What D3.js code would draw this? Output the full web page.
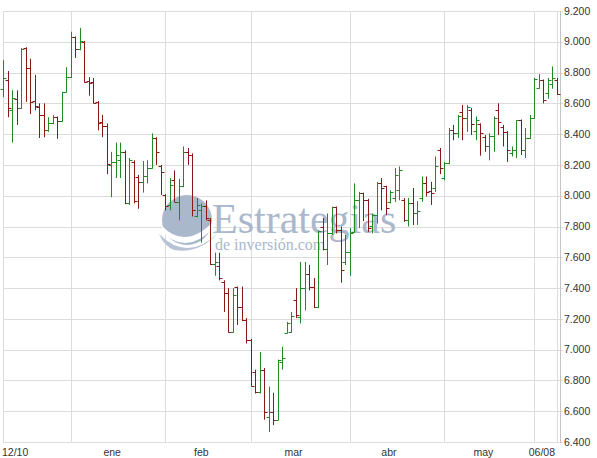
<!DOCTYPE html>
<html>
<head>
<meta charset="utf-8">
<script src="https://cdn.jsdelivr.net/npm/d3@7"></script>
<style>
  body { margin: 0; background: #fff; }
  svg { display: block; font-family: 'Liberation Sans', Arial, sans-serif; }
</style>
</head>
<body>
<svg width="597" height="458"></svg>
<script>
// daily OHLC, 10 dec -> 8 jun (one entry per session)
const opens = [
  8695, 8750, 8555, 8630, 8570, 8960, 8830, 8615, 8575, 8525,
  8425, 8470, 8510, 8485, 8675, 8770, 9030, 8955, 9000, 8745,
  8740, 8610, 8480, 8455, 8200, 8220, 8230, 8285, 7955, 8220,
  8120, 8090, 8125, 8180, 8375, 8190, 8005, 7940, 8100, 7960,
  8060, 8285, 8265, 7865, 7905, 7935, 7840, 7555, 7545, 7440,
  7365, 7115, 7405, 7280, 7190, 7065, 6855, 6725, 6870, 6565,
  6595, 6545, 6920, 7110, 7115, 7320, 7215, 7400, 7490, 7405,
  7280, 7795, 7655, 7755, 7925, 7775, 7570, 7635, 7765, 7975,
  8015, 7975, 7805, 7875, 8085, 8060, 7960, 7985, 8035, 7970,
  7840, 7955, 7885, 7985, 8080, 8030, 8050, 8295, 8115, 8210,
  8425, 8405, 8545, 8505, 8555, 8420, 8465, 8380, 8320, 8390,
  8555, 8445, 8415, 8280, 8300, 8490, 8300, 8375, 8505, 8700,
  8750, 8665, 8725, 8750
];
const highs = [
  8880, 8810, 8685, 8685, 8960, 8965, 8890, 8785, 8600, 8600,
  8510, 8525, 8515, 8675, 8835, 9065, 9035, 9090, 9005, 8770,
  8765, 8615, 8525, 8470, 8285, 8345, 8345, 8295, 8245, 8230,
  8135, 8225, 8230, 8405, 8380, 8200, 8010, 8115, 8165, 8110,
  8320, 8310, 8275, 7985, 7950, 7970, 7855, 7630, 7630, 7450,
  7400, 7400, 7410, 7410, 7205, 7070, 6870, 6985, 6880, 6760,
  6720, 6935, 7020, 7180, 7245, 7400, 7570, 7570, 7550, 7465,
  7775, 7855, 7885, 7930, 7930, 7800, 7745, 7790, 8080, 8025,
  8020, 7980, 7885, 8090, 8115, 8065, 8035, 8180, 8190, 7985,
  7985, 8050, 7965, 8125, 8125, 8090, 8255, 8310, 8220, 8440,
  8460, 8525, 8590, 8590, 8570, 8515, 8470, 8395, 8405, 8515,
  8600, 8460, 8420, 8320, 8490, 8495, 8440, 8525, 8765, 8790,
  8755, 8765, 8840, 8765
];
const lows = [
  8640, 8510, 8345, 8460, 8565, 8610, 8530, 8555, 8375, 8380,
  8415, 8465, 8370, 8480, 8670, 8765, 8895, 8945, 8735, 8650,
  8600, 8425, 8380, 8140, 7990, 8115, 8115, 7945, 7940, 7950,
  7915, 8020, 8080, 8175, 8200, 8005, 7905, 7905, 7960, 7840,
  8055, 8200, 7865, 7860, 7695, 7840, 7550, 7480, 7450, 7245,
  7110, 7110, 7160, 7185, 7040, 6760, 6715, 6715, 6545, 6465,
  6510, 6540, 6870, 7105, 7110, 7205, 7170, 7255, 7385, 7270,
  7270, 7645, 7550, 7745, 7755, 7435, 7550, 7480, 7760, 7790,
  7835, 7765, 7755, 7820, 7905, 7875, 7950, 7960, 7970, 7830,
  7800, 7810, 7810, 7960, 7995, 7940, 8025, 8140, 8100, 8205,
  8360, 8375, 8360, 8415, 8395, 8360, 8260, 8285, 8230, 8285,
  8395, 8320, 8220, 8255, 8245, 8265, 8245, 8370, 8500, 8695,
  8600, 8630, 8695, 8655
];
const closes = [
  8765, 8570, 8635, 8570, 8955, 8830, 8610, 8585, 8525, 8425,
  8470, 8510, 8485, 8675, 8770, 9030, 8955, 9005, 8740, 8730,
  8605, 8470, 8455, 8205, 8220, 8265, 8285, 7955, 8230, 7965,
  8090, 8125, 8180, 8375, 8285, 8155, 7935, 8070, 7960, 8060,
  8285, 8265, 7905, 7940, 7935, 7855, 7555, 7570, 7465, 7365,
  7115, 7355, 7275, 7190, 7065, 6765, 6725, 6870, 6595, 6595,
  6545, 6930, 6945, 7175, 7220, 7225, 7400, 7490, 7405, 7280,
  7770, 7655, 7755, 7925, 7775, 7515, 7635, 7755, 7975, 8015,
  7975, 7790, 7875, 8085, 8050, 7920, 8025, 8135, 8165, 7840,
  7955, 7885, 7900, 8080, 8025, 8020, 8190, 8180, 8210, 8430,
  8405, 8520, 8505, 8575, 8465, 8490, 8405, 8320, 8390, 8505,
  8480, 8415, 8295, 8300, 8490, 8300, 8375, 8505, 8755, 8750,
  8620, 8750, 8765, 8660
];

// session index where each vertical gridline sits
const gridSessions = [0, 15, 36, 55, 77, 98, 118, 123];
const xLabels = ['12/10', 'ene', 'feb', 'mar', 'abr', 'may', '06/08'];
const xLabelSessions = [0, 24.2, 44, 64.5, 85.7, 106.7, 123];
const yTicks = [6400, 6600, 6800, 7000, 7200, 7400, 7600, 7800, 8000, 8200, 8400, 8600, 8800, 9000, 9200];

const svg = d3.select('svg');
const plotLeft = 3, plotRight = 560.5, plotTop = 11, plotBottom = 442;

const data = opens.map((o, i) => ({
  i: i, open: o, high: highs[i], low: lows[i], close: closes[i]
}));

const xScale = d3.scaleLinear()
  .domain([0, data.length - 1])
  .range([3.3, 556.8]);

const yScale = d3.scaleLinear()
  .domain([6400, 9200])
  .range([plotBottom, plotTop]);

const px = v => Math.round(v) + 0.5;

// grid
svg.append('g')
  .selectAll('line')
  .data(yTicks)
  .enter().append('line')
    .attr('x1', plotLeft)
    .attr('x2', plotRight + 2.5)
    .attr('y1', d => px(yScale(d)))
    .attr('y2', d => px(yScale(d)))
    .attr('stroke', '#dcdcdc');

svg.append('g')
  .selectAll('line')
  .data(gridSessions)
  .enter().append('line')
    .attr('x1', d => px(xScale(d)))
    .attr('x2', d => px(xScale(d)))
    .attr('y1', plotTop)
    .attr('y2', plotBottom)
    .attr('stroke', '#dcdcdc');

svg.append('line')
  .attr('x1', plotRight).attr('x2', plotRight)
  .attr('y1', plotTop).attr('y2', plotBottom + 1)
  .attr('stroke', '#c4c4c4');

// watermark
const wm = svg.append('g').attr('fill', '#aab8cb');
wm.append('circle')
  .attr('cx', 187).attr('cy', 220).attr('r', 25);
wm.append('path')
  .attr('d', 'M162,226 Q185,250 213,222 L213,228 Q187,256 162,232 Z')
  .attr('fill', '#fff');
wm.append('path')
  .attr('d', 'M159,234 Q187,262 217,234 Q199,254 174,250 Q164,246 159,234 Z')
  .attr('fill', '#b8c4d4');
wm.append('text')
  .attr('x', 212).attr('y', 233)
  .attr('font-family', "'Liberation Serif', 'Times New Roman', serif")
  .attr('font-size', 42)
  .text('Estrategias');
wm.append('text')
  .attr('x', 215).attr('y', 250)
  .attr('font-family', "'Liberation Serif', 'Times New Roman', serif")
  .attr('font-size', 16)
  .text('de inversión.com');

// bars
const bars = svg.append('g')
  .selectAll('g')
  .data(data)
  .enter().append('g')
    .attr('stroke', d => d.close >= d.open ? '#228a22' : '#8a1818')
    .attr('stroke-width', 1);

bars.append('line')
  .attr('x1', d => px(xScale(d.i)))
  .attr('x2', d => px(xScale(d.i)))
  .attr('y1', d => yScale(d.high))
  .attr('y2', d => yScale(d.low));

bars.append('line')
  .attr('x1', d => px(xScale(d.i)) - 3)
  .attr('x2', d => px(xScale(d.i)))
  .attr('y1', d => px(yScale(d.open)))
  .attr('y2', d => px(yScale(d.open)));

bars.append('line')
  .attr('x1', d => px(xScale(d.i)))
  .attr('x2', d => px(xScale(d.i)) + 3)
  .attr('y1', d => px(yScale(d.close)))
  .attr('y2', d => px(yScale(d.close)));

// right axis labels
svg.append('g')
  .selectAll('text')
  .data(yTicks)
  .enter().append('text')
    .attr('x', 564)
    .attr('y', d => yScale(d))
    .attr('dy', '0.35em')
    .attr('font-size', 10.5)
    .attr('fill', '#333')
    .text(d => d3.format(',')(d).replace(',', '.'));

// bottom labels
svg.append('g')
  .selectAll('text')
  .data(xLabels)
  .enter().append('text')
    .attr('x', (d, i) => i === 0 ? 2 : i === xLabels.length - 1 ? 555 : xScale(xLabelSessions[i]))
    .attr('y', 456)
    .attr('text-anchor', (d, i) => i === 0 ? 'start' : i === xLabels.length - 1 ? 'end' : 'middle')
    .attr('font-size', 10.5)
    .attr('fill', '#333')
    .text(d => d);
</script>
</body>
</html>
